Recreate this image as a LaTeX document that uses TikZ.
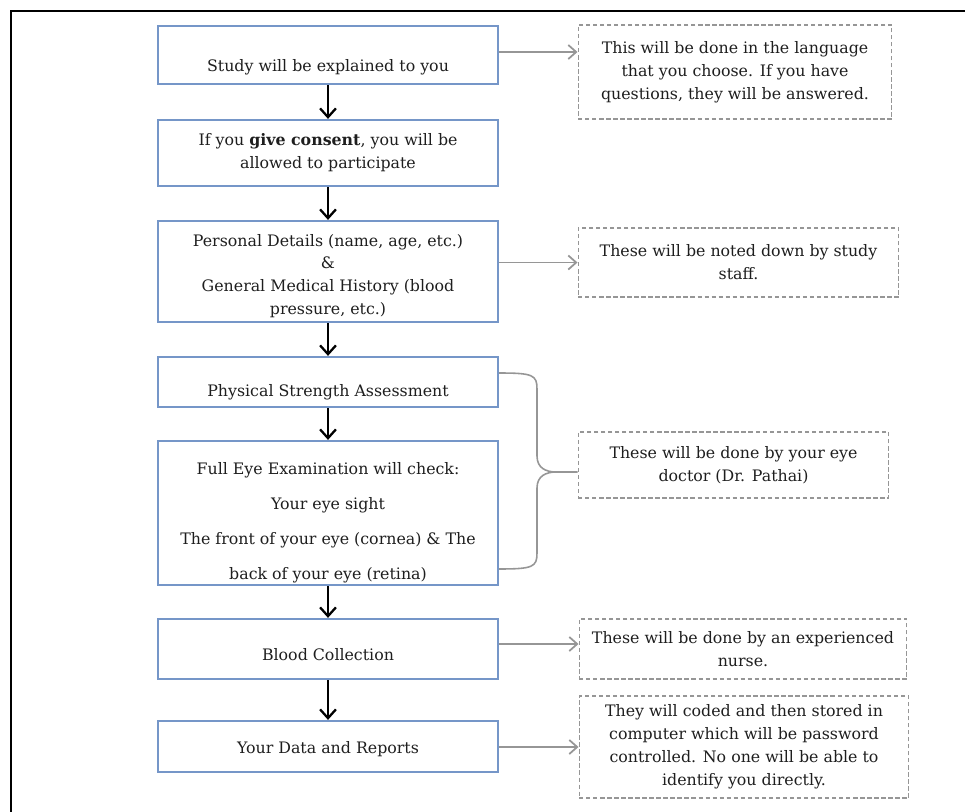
\documentclass[tikz,border=0pt]{standalone}
\usepackage{fontspec}
\setmainfont{DejaVu Serif}
\usetikzlibrary{arrows.meta}

\definecolor{boxblue}{RGB}{117,150,200}
\definecolor{notegray}{RGB}{150,150,150}
\definecolor{inkgray}{RGB}{30,30,30}

\begin{document}
\begin{tikzpicture}[
x=0.02cm, y=-0.02cm,
every node/.style={
text=inkgray,
font=\fontsize{9}{13}\selectfont,
align=center,
inner sep=0pt
},
stepbox/.style={
draw=boxblue,
line width=1.3pt,
minimum width=6.8cm
},
sunk/.style={text height=#1, text depth=2pt},
notebox/.style={
draw=notegray,
line width=0.6pt,
dash pattern=on 2.5pt off 1.5pt
},
flow/.style={line width=1.3pt, -{Straight Barb[length=5pt,width=9pt]}},
side/.style={draw=notegray, line width=1pt, -{Straight Barb[length=4.5pt,width=8pt]}},
brace/.style={draw=notegray, line width=0.9pt}
]

\useasboundingbox (0,0) rectangle (965,812);

% page frame
\draw[line width=1.1pt] (965,11) -- (11,11) -- (11,812);

% steps
\node[stepbox, minimum height=1.16cm, sunk=21pt] (B1) at (328,55)
{Study will be explained to you};

\node[stepbox, minimum height=1.32cm] (B2) at (328,153)
{If you \textbf{give consent}, you will be\\allowed to participate};

\node[stepbox, minimum height=2.02cm] (B3) at (328,271.5)
{\rule{0pt}{12pt}Personal Details (name, age, etc.)\\\&\\General Medical History (blood\\pressure, etc.)};

\node[stepbox, minimum height=1cm, sunk=19pt] (B4) at (328,382)
{Physical Strength Assessment};

\node[stepbox, minimum height=2.88cm] (B5) at (328,513)
{\rule{0pt}{18pt}Full Eye Examination will check:\\[7pt]
Your eye sight\\[7pt]
The front of your eye (cornea) \& The\\[7pt]
back of your eye (retina)};

\node[stepbox, minimum height=1.2cm, sunk=15.5pt] (B6) at (328,649)
{Blood Collection};

\node[stepbox, minimum height=1.02cm, sunk=10.5pt] (B7) at (328,746.5)
{Your Data and Reports};

% notes
\node[notebox, minimum width=6.28cm, minimum height=1.88cm] (D1) at (735,72)
{This will be done in the language\\that you choose. If you have\\questions, they will be answered.};

\node[notebox, minimum width=6.42cm, minimum height=1.38cm] (D3) at (738.5,262.5)
{These will be noted down by study\\staff.};

\node[notebox, minimum width=6.22cm, minimum height=1.32cm] (DC) at (733.5,465)
{These will be done by your eye\\doctor (Dr. Pathai)};

\node[notebox, minimum width=6.56cm, minimum height=1.2cm] (D6) at (743,649)
{These will be done by an experienced\\nurse.};

\node[notebox, minimum width=6.6cm, minimum height=2.04cm] (D7) at (744,747)
{They will coded and then stored in\\computer which will be password\\controlled. No one will be able to\\identify you directly.};

% flow
\draw[flow] (B1) -- (B2);
\draw[flow] (B2) -- (B3);
\draw[flow] (B3) -- (B4);
\draw[flow] (B4) -- (B5);
\draw[flow] (B5) -- (B6);
\draw[flow] (B6) -- (B7);

% side notes
\draw[side] ([yshift=0.06cm]B1.east) -- ([yshift=0.06cm]B1.east -| D1.west);
\draw[side] (B3.east |- D3.west) -- (D3.west);
\draw[side] ([yshift=0.1cm]B6.east) -- ([yshift=0.1cm]B6.east -| D6.west);
\draw[side] (B7.east |- D7.west) -- (D7.west);

% brace
\draw[brace] ([yshift=0.18cm]B4.east)
.. controls +(34,0) and +(0,-14) .. (537,389)
-- (537,456)
.. controls (537,468) and (546,472) .. (556,472)
-- ([yshift=-0.14cm]DC.west)
(556,472)
.. controls (546,472) and (537,476) .. (537,488)
-- (537,553)
.. controls +(0,14) and +(34,0) .. ([yshift=-1.12cm]B5.east);

\end{tikzpicture}
\end{document}
